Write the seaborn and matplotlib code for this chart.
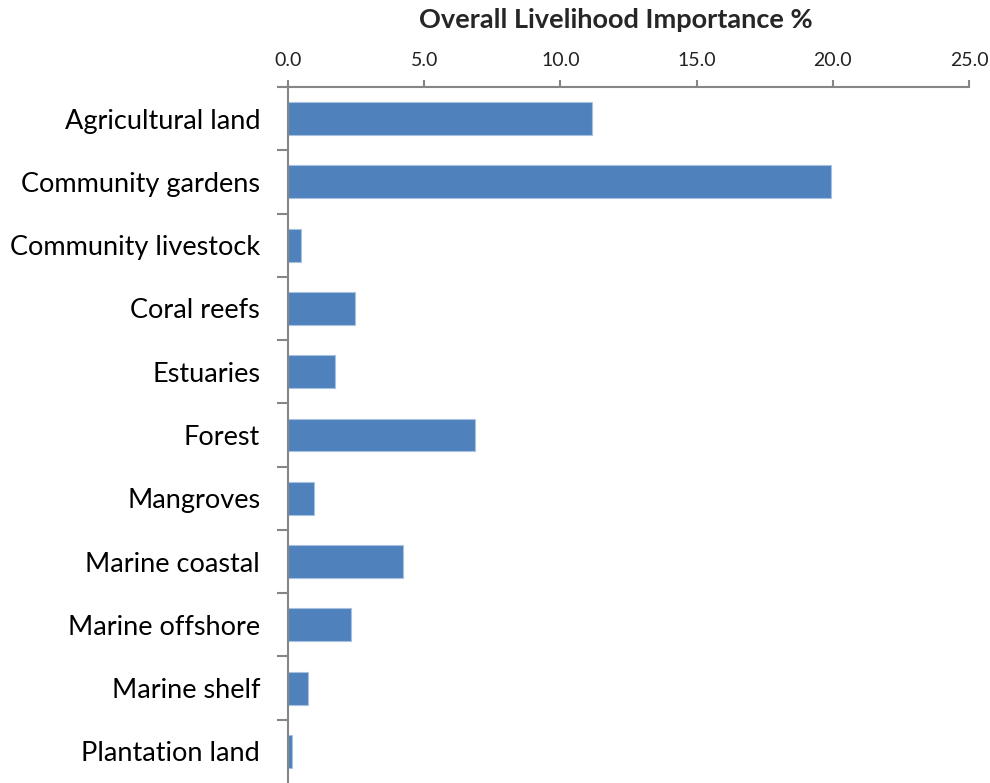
import matplotlib
matplotlib.use("Agg")
import matplotlib.pyplot as plt
import seaborn as sns
import pandas as pd
import numpy as np

categories = ["Agricultural land", "Community gardens", "Community livestock",
              "Coral reefs", "Estuaries", "Forest", "Mangroves",
              "Marine coastal", "Marine offshore", "Marine shelf",
              "Plantation land"]
importance = [11.17, 19.95, 0.47, 2.46, 1.72, 6.86, 0.97, 4.22, 2.31, 0.73, 0.13]
x_ticks = [0, 5, 10, 15, 20, 25]

df = pd.DataFrame({"category": categories, "importance": importance})

sns.set_style("white")
plt.rcParams['font.family'] = ['Lato', 'DejaVu Sans']

fig = plt.figure(figsize=(9.9, 7.83), dpi=100)
ax = fig.add_axes([288 / 990, 0.0, 681 / 990, (783 - 87) / 783])

sns.barplot(data=df, x="importance", y="category", orient="h",
            color="#4F81BD", saturation=1, width=0.52, ax=ax,
            edgecolor="#a9c1e0", linewidth=0.8)

gray = "#868686"
ax.set_xlim(0, 25)
ax.set_ylim(len(categories) - 0.5, -0.5)
ax.xaxis.tick_top()
ax.xaxis.set_label_position("top")
ax.set_xticks(x_ticks)
ax.set_xticklabels([f"{t:.1f}" for t in x_ticks], fontsize=14, color="#222222")
ax.tick_params(axis="x", which="major", top=True, bottom=False, direction="out",
               length=5, width=1.5, color=gray, pad=8)

# category labels without tick marks, boundary tick marks instead
ax.set_yticks(np.arange(len(categories)))
ax.set_yticklabels(categories, fontsize=19.5, color="black")
ax.tick_params(axis="y", which="major", left=True, length=0, pad=20)
ax.set_yticks(np.arange(len(categories)) - 0.5, minor=True)
ax.tick_params(axis="y", which="minor", left=True, direction="out",
               length=8, width=1.5, color=gray)

ax.set_xlabel("Overall Livelihood Importance %", fontsize=19.5, fontweight="bold")
ax.xaxis.set_label_coords(0.482, 1.0 + 59 / 696)
ax.set_ylabel("")

for s in ["right", "bottom"]:
    ax.spines[s].set_visible(False)
for s in ["top", "left"]:
    ax.spines[s].set_color(gray)
    ax.spines[s].set_linewidth(1.5)

fig.savefig("out.png", dpi=100)
